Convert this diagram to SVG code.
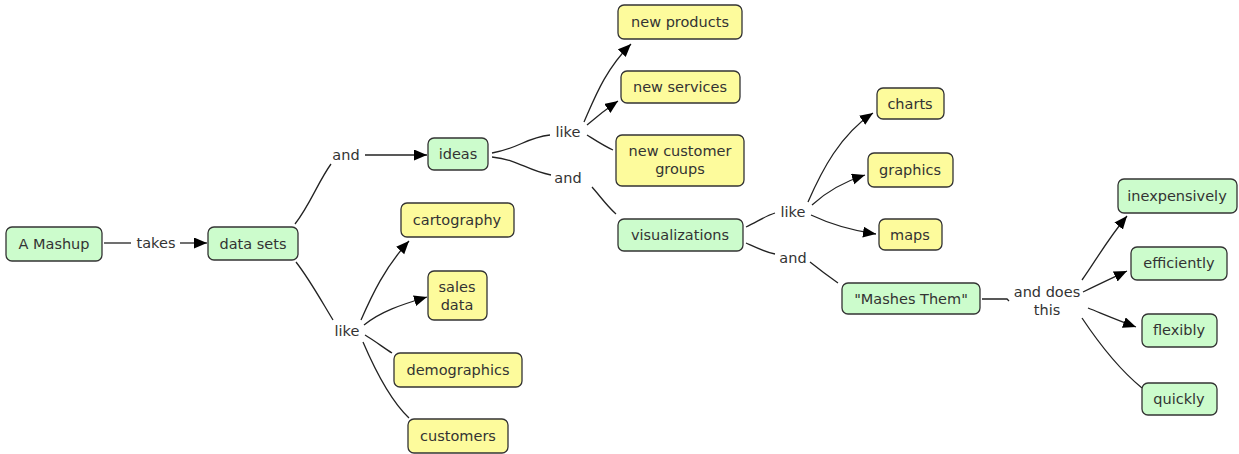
<svg xmlns="http://www.w3.org/2000/svg" width="1239" height="454" viewBox="0 0 1239 454">
<style>
.g rect{fill:#ccfccc;stroke:#333;stroke-width:1.3}
.y rect{fill:#fdfb9c;stroke:#333;stroke-width:1.3}
text{font-family:"DejaVu Sans",Verdana,sans-serif;font-size:14.5px;fill:#333;text-anchor:middle}
.c path{fill:none;stroke:#222;stroke-width:1.3}
.c path.a{marker-end:url(#ar)}
</style>
<defs>
<marker id="ar" markerUnits="userSpaceOnUse" markerWidth="14" markerHeight="12" refX="13" refY="5.5" orient="auto">
<path d="M0,0 L13,5.5 L0,11 z" fill="#000"/>
</marker>
</defs>
<g class="c" id="connectors">
<path d="M104,243 L131,243"/>
<path class="a" d="M180,243 L207,243"/>
<path d="M295,224 C310,205 318,182 331,164"/>
<path class="a" d="M365,155 L427,155"/>
<path d="M296,262 C310,280 322,302 333,320"/>
<path class="a" d="M361,320 C372,295 385,267 409,241"/>
<path class="a" d="M364,325 C380,312 400,305 427,297"/>
<path d="M365,335 C375,341 384,348 392,353"/>
<path d="M363,342 C375,370 390,400 409,418"/>
<path d="M492,153 C520,148 525,138 550,135"/>
<path d="M492,157 C520,160 525,170 551,175"/>
<path class="a" d="M584,122 C595,97 605,70 631,44"/>
<path class="a" d="M587,125 C595,118 605,110 618,101"/>
<path d="M587,135 C595,140 604,146 613,150"/>
<path d="M592,187 C600,196 607,206 616,214"/>
<path d="M746,227 C757,222 765,216 775,213"/>
<path d="M746,243 C757,248 765,252 775,254"/>
<path class="a" d="M808,202 C822,170 840,135 873,113"/>
<path class="a" d="M812,205 C825,193 840,183 865,175"/>
<path class="a" d="M811,215 C830,224 848,230 876,234"/>
<path d="M810,262 C820,270 828,276 838,283"/>
<path d="M982,299 L1007,299 L1009,301"/>
<path class="a" d="M1082,280 C1095,262 1107,240 1127,216"/>
<path class="a" d="M1083,292 C1097,285 1110,279 1127,271"/>
<path class="a" d="M1088,308 C1103,314 1117,320 1136,327"/>
<path d="M1082,318 C1100,345 1120,370 1142,388"/>
</g>
<g id="labels">
<text x="156" y="248">takes</text>
<text x="346" y="160">and</text>
<text x="347" y="336">like</text>
<text x="568" y="137">like</text>
<text x="568" y="183">and</text>
<text x="793" y="217">like</text>
<text x="793" y="263">and</text>
<text x="1047" y="297">and does</text>
<text x="1047" y="315">this</text>
</g>
<g id="n-mashup" class="g"><rect x="6" y="227" width="96" height="34" rx="6"/><text x="54" y="249">A Mashup</text></g>
<g id="n-datasets" class="g"><rect x="208" y="227" width="90" height="33" rx="6"/><text x="253" y="249">data sets</text></g>
<g id="n-ideas" class="g"><rect x="428" y="138" width="60" height="32" rx="6"/><text x="458" y="159">ideas</text></g>
<g id="n-newproducts" class="y"><rect x="618" y="5" width="124" height="34" rx="6"/><text x="680" y="27">new products</text></g>
<g id="n-newservices" class="y"><rect x="621" y="71" width="119" height="32" rx="6"/><text x="680" y="92">new services</text></g>
<g id="n-newcustomer" class="y"><rect x="616" y="135" width="128" height="51" rx="6"/><text x="680" y="156">new customer</text><text x="680" y="174">groups</text></g>
<g id="n-visualizations" class="g"><rect x="618" y="219" width="125" height="32" rx="6"/><text x="680" y="240">visualizations</text></g>
<g id="n-charts" class="y"><rect x="877" y="88" width="67" height="31" rx="6"/><text x="910" y="109">charts</text></g>
<g id="n-graphics" class="y"><rect x="868" y="153" width="85" height="34" rx="6"/><text x="910" y="175">graphics</text></g>
<g id="n-maps" class="y"><rect x="879" y="219" width="63" height="31" rx="6"/><text x="910" y="240">maps</text></g>
<g id="n-mashesthem" class="g"><rect x="842" y="283" width="138" height="31" rx="6"/><text x="911" y="304">"Mashes Them"</text></g>
<g id="n-inexpensively" class="g"><rect x="1118" y="179" width="119" height="34" rx="6"/><text x="1177" y="201">inexpensively</text></g>
<g id="n-efficiently" class="g"><rect x="1131" y="247" width="96" height="33" rx="6"/><text x="1179" y="268">efficiently</text></g>
<g id="n-flexibly" class="g"><rect x="1142" y="314" width="75" height="33" rx="6"/><text x="1179" y="335">flexibly</text></g>
<g id="n-quickly" class="g"><rect x="1142" y="383" width="75" height="32" rx="6"/><text x="1179" y="404">quickly</text></g>
<g id="n-cartography" class="y"><rect x="401" y="203" width="113" height="34" rx="6"/><text x="457" y="225">cartography</text></g>
<g id="n-salesdata" class="y"><rect x="428" y="271" width="59" height="49" rx="6"/><text x="457" y="292">sales</text><text x="457" y="310">data</text></g>
<g id="n-demographics" class="y"><rect x="394" y="353" width="128" height="34" rx="6"/><text x="458" y="375">demographics</text></g>
<g id="n-customers" class="y"><rect x="408" y="419" width="100" height="34" rx="6"/><text x="458" y="441">customers</text></g>
</svg>
